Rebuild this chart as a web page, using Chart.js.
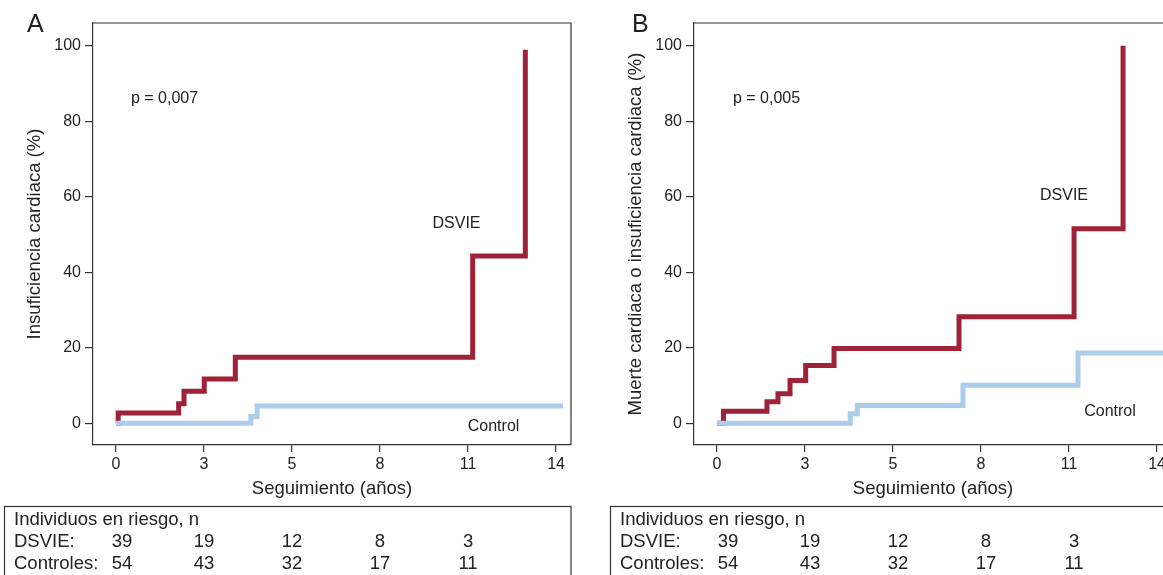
<!DOCTYPE html>
<html>
<head>
<meta charset="utf-8">
<script src="https://cdn.jsdelivr.net/npm/chart.js@4.4.1/dist/chart.umd.min.js"></script>
<style>
  html, body { margin: 0; padding: 0; background: #fff; overflow: hidden; }
  #wrap { position: relative; width: 1163px; height: 575px; overflow: hidden; }
  .panel { position: absolute; top: 0; width: 601px; height: 575px; }
</style>
</head>
<body>
<div id="wrap">
  <div class="panel" style="left:0"><canvas id="chartA" width="601" height="575"></canvas></div>
  <div class="panel" style="left:601px"><canvas id="chartB" width="601" height="575"></canvas></div>
</div>
<script>
// follow-up in days; ticks every 1000 days, labelled in years
const tickDays = [0, 1000, 2000, 3000, 4000, 5000];
const tickLabels = ['0', '3', '5', '8', '11', '14'];
const yTicks = [0, 20, 40, 60, 80, 100];

// A: insuficiencia cardiaca
const dsvieTimeA = [0, 25, 712, 773, 1003, 1356, 4053, 4651];
const dsvieValA = [0, 2.7, 5.2, 8.5, 11.7, 17.5, 44.3, 98.9];
const controlTimeA = [0, 1532, 1604, 5080];
const controlValA = [0, 1.8, 4.6, 4.6];

// B: muerte cardiaca o insuficiencia cardiaca
const dsvieTimeB = [0, 74, 568, 693, 830, 1008, 1330, 2750, 4057, 4614];
const dsvieValB = [0, 3.2, 5.7, 7.8, 11.3, 15.3, 19.8, 28.2, 51.5, 100];
const controlTimeB = [0, 1515, 1594, 2795, 4102, 5080];
const controlValB = [0, 2.5, 4.7, 10.1, 18.6, 18.6];

// individuos en riesgo (same table under both panels)
const riskDSVIE = [39, 19, 12, 8, 3];
const riskControles = [54, 43, 32, 17, 11];

const RED = '#9e2238';
const BLUE = '#abcdeb';
const INK = '#222';
const AXIS = '#333';
const FONT = "'Liberation Sans', Arial, sans-serif";

function toPoints(times, vals) {
  return times.map((t, i) => ({ x: t, y: vals[i] }));
}

// frame, labels and risk table
const extras = {
  id: 'extras',
  afterDraw(chart, args, opts) {
    const { ctx, chartArea: a, scales: { x, y } } = chart;
    ctx.save();
    // top / right part of the box
    ctx.strokeStyle = AXIS;
    ctx.lineWidth = 1.2;
    ctx.beginPath();
    ctx.moveTo(a.left, a.top);
    ctx.lineTo(a.right, a.top);
    ctx.lineTo(a.right, a.bottom);
    ctx.stroke();

    ctx.fillStyle = INK;
    ctx.textBaseline = 'alphabetic';
    ctx.textAlign = 'left';
    ctx.font = '25px ' + FONT;
    ctx.fillText(opts.letter, opts.letterX, 32);

    ctx.font = '16px ' + FONT;
    ctx.textBaseline = 'middle';
    ctx.fillText(opts.pText, x.getPixelForValue(opts.pPos[0]), y.getPixelForValue(opts.pPos[1]));
    ctx.textAlign = 'center';
    ctx.fillText('DSVIE', x.getPixelForValue(opts.dsviePos[0]), y.getPixelForValue(opts.dsviePos[1]));
    ctx.fillText('Control', x.getPixelForValue(opts.controlPos[0]), y.getPixelForValue(opts.controlPos[1]));

    // risk table
    const s = opts.tableShift;
    ctx.strokeStyle = AXIS;
    ctx.lineWidth = 1.2;
    ctx.strokeRect(4.5 + s, 506.5, a.right - 4.5 - s, 120);
    ctx.font = '18.5px ' + FONT;
    ctx.textAlign = 'left';
    ctx.fillText('Individuos en riesgo, n', 14 + s, 520);
    ctx.fillText('DSVIE:', 14 + s, 542);
    ctx.fillText('Controles:', 14 + s, 564);
    ctx.textAlign = 'center';
    riskDSVIE.forEach((n, i) => {
      const px = x.getPixelForValue(tickDays[i]) + (i === 0 ? 6 : 0) + s;
      ctx.fillText(String(n), px, 542);
      ctx.fillText(String(riskControles[i]), px, 564);
    });
    ctx.restore();
  }
};

function makeChart(id, cfg) {
  return new Chart(document.getElementById(id), {
    type: 'line',
    data: {
      datasets: [
        {
          label: 'DSVIE',
          data: toPoints(cfg.dsvieTime, cfg.dsvieVal),
          borderColor: RED,
          borderWidth: 5,
          stepped: 'before',
          pointRadius: 0,
          borderCapStyle: 'butt',
          borderJoinStyle: 'miter',
          fill: false,
          order: 2
        },
        {
          label: 'Control',
          data: toPoints(cfg.controlTime, cfg.controlVal),
          borderColor: BLUE,
          borderWidth: 5,
          stepped: 'before',
          pointRadius: 0,
          borderCapStyle: 'butt',
          borderJoinStyle: 'miter',
          fill: false,
          order: 1
        }
      ]
    },
    options: {
      responsive: false,
      animation: false,
      devicePixelRatio: 1,
      layout: { padding: { left: 0, right: 30, top: 23, bottom: 0 } },
      plugins: {
        legend: { display: false },
        tooltip: { enabled: false },
        extras: cfg.extras
      },
      scales: {
        x: {
          type: 'linear',
          min: -261,
          max: 5170,
          afterFit: s => { s.height = 130; },
          afterBuildTicks: s => { s.ticks = tickDays.map(v => ({ value: v })); },
          grid: { drawOnChartArea: false, drawTicks: true, tickLength: 7, color: AXIS, lineWidth: 1.2 },
          border: { display: true, color: AXIS, width: 1.2 },
          ticks: {
            autoSkip: false,
            maxRotation: 0,
            padding: 3,
            color: INK,
            font: { family: FONT, size: 16 },
            callback: (v, i) => tickLabels[i]
          },
          title: {
            display: true,
            text: 'Seguimiento (años)',
            color: INK,
            font: { family: FONT, size: 18.5 },
            padding: { top: 0, bottom: 75 }
          }
        },
        y: {
          type: 'linear',
          min: -5.75,
          max: 106,
          afterFit: s => { s.width = 93; },
          afterBuildTicks: s => { s.ticks = yTicks.map(v => ({ value: v })); },
          grid: { drawOnChartArea: false, drawTicks: true, tickLength: 8, color: AXIS, lineWidth: 1.2 },
          border: { display: true, color: AXIS, width: 1.2 },
          ticks: {
            padding: 4,
            color: INK,
            font: { family: FONT, size: 16 }
          },
          title: {
            display: true,
            text: cfg.yTitle,
            color: INK,
            font: { family: FONT, size: 18.5 },
            padding: { top: 24, bottom: 0 }
          }
        }
      }
    },
    plugins: [extras]
  });
}

makeChart('chartA', {
  dsvieTime: dsvieTimeA, dsvieVal: dsvieValA,
  controlTime: controlTimeA, controlVal: controlValA,
  yTitle: 'Insuficiencia cardiaca (%)',
  extras: {
    letter: 'A', letterX: 27, pText: 'p = 0,007',
    pPos: [170, 86], dsviePos: [3869, 52.8], controlPos: [4290, -0.9],
    tableShift: 0
  }
});

makeChart('chartB', {
  dsvieTime: dsvieTimeB, dsvieVal: dsvieValB,
  controlTime: controlTimeB, controlVal: controlValB,
  yTitle: 'Muerte cardiaca o insuficiencia cardiaca (%)',
  extras: {
    letter: 'B', letterX: 31, pText: 'p = 0,005',
    pPos: [182, 86], dsviePos: [3943, 60.3], controlPos: [4466, 3.1],
    tableShift: 5
  }
});
</script>
</body>
</html>
